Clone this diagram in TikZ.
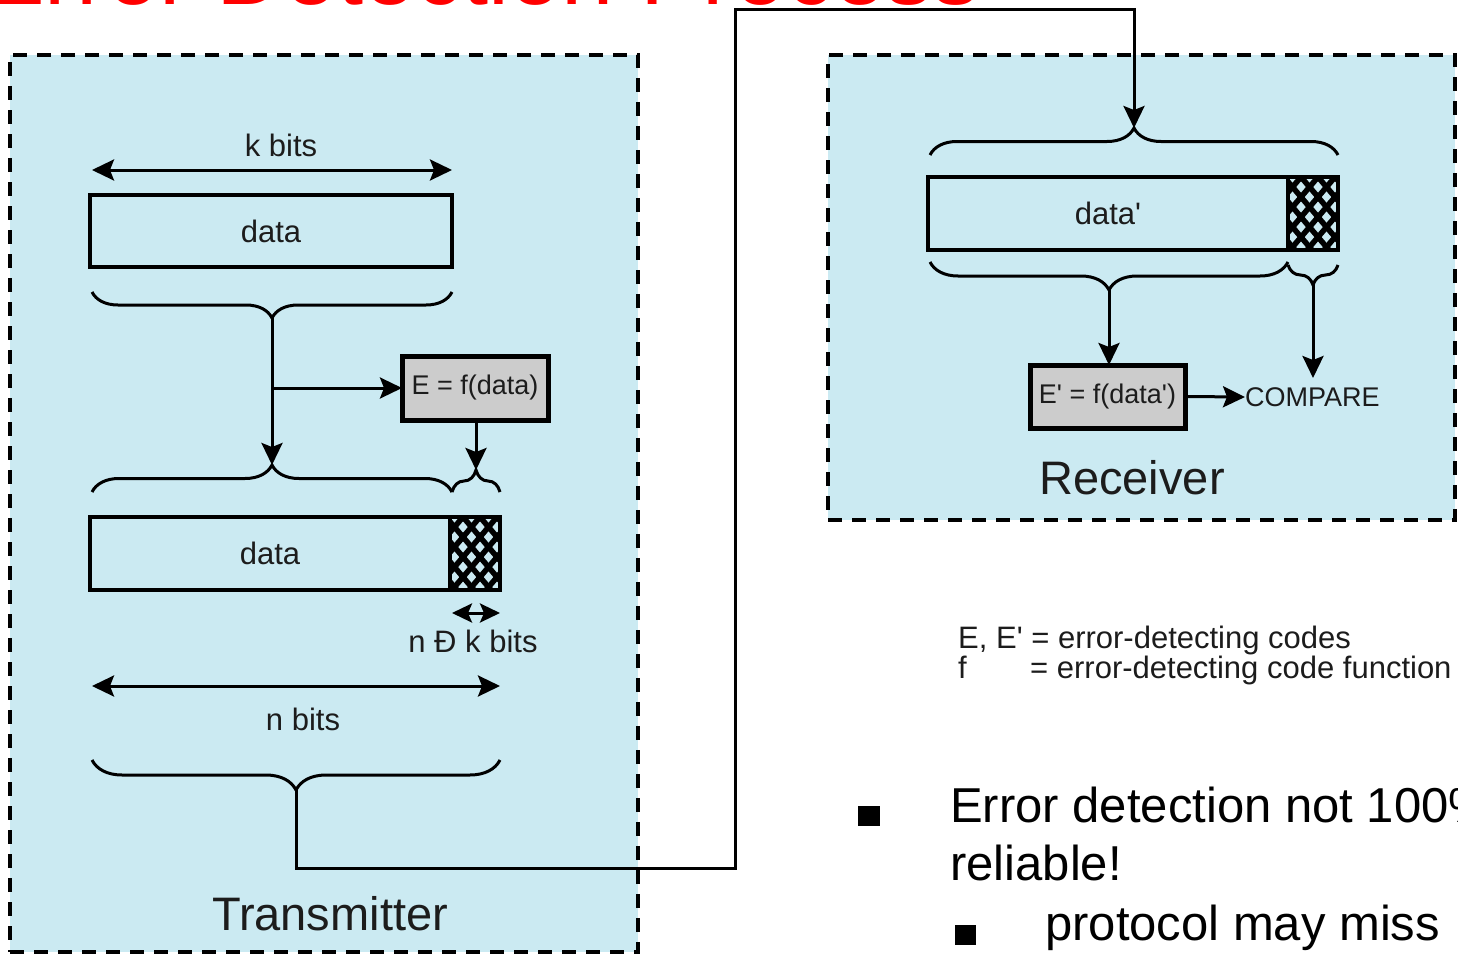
\documentclass[tikz,border=0pt]{standalone}
\usepackage{fontspec}
\setmainfont{Liberation Sans}
\usetikzlibrary{arrows.meta,decorations.pathreplacing,calc}
\definecolor{panelblue}{RGB}{203,234,242}
\definecolor{boxgray}{RGB}{204,204,204}
\definecolor{inkgray}{RGB}{28,28,28}
\newcommand\fLabel{\fontsize{31}{36}\selectfont}
\newcommand\fSmall{\fontsize{27}{32}\selectfont}
\newcommand\fSide{\fontsize{47}{54}\selectfont}
\newcommand\fBullet{\fontsize{49}{58}\selectfont}
\newcommand\fTitle{\fontsize{94}{100}\selectfont}

\begin{document}
\begin{tikzpicture}[x=1pt,y=-1pt,
  panel/.style={draw=black, fill=panelblue, line width=3.5pt,
    dash pattern=on 14pt off 10pt, inner sep=0pt, outer sep=0pt, anchor=north west},
  field/.style={draw=black, line width=4pt, fill=panelblue, inner sep=0pt,
    outer sep=0pt, anchor=north west, text=inkgray, font=\fLabel},
  hatched/.style={field, path picture={
      \foreach \c in {-140,-123,...,200}{
        \draw[black, line width=5.5pt]
          ([xshift=\c pt]path picture bounding box.north west) -- ++(90pt,-106pt);
        \draw[black, line width=5.5pt]
          ([xshift=\c pt]path picture bounding box.north west) -- ++(-90pt,-106pt);
      }}},
  fnbox/.style={draw=black, line width=5pt, fill=boxgray, inner sep=0pt,
    outer sep=0pt, anchor=north west, text=inkgray, font=\fSmall},
  conn/.style={line width=3pt, black},
  arr/.style={conn, -{Stealth[length=22pt,width=21pt,inset=4pt]}},
  dbl/.style={conn, {Stealth[length=22pt,width=21pt,inset=4pt]}-{Stealth[length=22pt,width=21pt,inset=4pt]}},
  dbls/.style={conn, {Stealth[length=20pt,width=19pt,inset=4pt]}-{Stealth[length=20pt,width=19pt,inset=4pt]}},
  brc/.style={conn, decorate, decoration={brace, amplitude=#1}},
  brcm/.style={conn, decorate, decoration={brace, mirror, amplitude=#1}},
  lbl/.style={text=inkgray, font=\fLabel, inner sep=0pt},
]
\path[use as bounding box] (0,0) rectangle (1458,955);
\clip (0,0) rectangle (1458,955);

% heading, mostly above the page edge
\node[font=\fTitle, text=red, anchor=base east, inner sep=0pt] (title) at (980,5) {Error Detection Process};

% the two stations
\node[panel, minimum width=628, minimum height=897] (tx) at (10,55) {};
\node[panel, minimum width=627, minimum height=465] (rx) at (828,55) {};
\node[font=\fSide, text=inkgray, anchor=base, inner sep=0pt] (txname) at (330,930) {Transmitter};
\node[font=\fSide, text=inkgray, anchor=base, inner sep=0pt] (rxname) at (1132,494) {Receiver};

% ---------- transmitter ----------
\coordinate (kL) at (92,170);
\coordinate (kR) at (452,170);
\draw[dbl] (kL) -- (kR);
\node[lbl, anchor=base] (kbits) at (281,157) {k bits};

\node[field, minimum width=362, minimum height=72] (data1) at (90,195) {data};

\draw[brcm=26pt] (92,292) -- (452,292);
\coordinate (b1tip) at (272,318);
\coordinate (branch) at (272,388);

\node[fnbox, minimum width=146, minimum height=64] (ebox) at (402,356) {E = f(data)};

\draw[brc=27pt] (92,492) -- (452,492);
\draw[brc=22pt] (452,492) -- (500,492);
\coordinate (b2tip) at (272,465);
\coordinate (b2stip) at (476,470);

\draw[arr] (b1tip) -- (b2tip);
\draw[arr] (branch) -- (ebox.west);
\draw[arr] (ebox.south -| b2stip) -- (b2stip);

\node[field, minimum width=360, minimum height=73] (data2) at (90,517) {data};
\node[hatched, minimum width=50, minimum height=73] (chk2) at (450,517) {};

\coordinate (nkL) at (452,613);
\coordinate (nkR) at (500,613);
\draw[dbls] (nkL) -- (nkR);
\node[lbl, anchor=base] (nkbits) at (473,652) {n Ð k bits};

\coordinate (nL) at (92,686);
\coordinate (nR) at (500,686);
\draw[dbl] (nL) -- (nR);
\node[lbl, anchor=base] (nbits) at (303,730) {n bits};

\draw[brcm=30pt] (92,760) -- (500,760);
\coordinate (b3tip) at (296,790);

% ---------- receiver ----------
\draw[brc=27pt] (930,155) -- (1338,155);
\coordinate (bRtip) at (1134,128);

\node[field, minimum width=360, minimum height=73] (dataR) at (928,177) {data\textquotesingle};
\node[hatched, minimum width=50, minimum height=73] (chkR) at (1288,177) {};

\draw[brcm=28pt] (930,262) -- (1288,262);
\draw[brcm=20pt] (1288,265) -- (1338,265);
\coordinate (bRbtip) at (1109,290);
\coordinate (bRstip) at (1313,285);

\node[fnbox, minimum width=155, minimum height=63] (eprime) at (1030,365) {E\textquotesingle{} = f(data\textquotesingle)};
\node[text=inkgray, font=\fSmall, inner sep=0pt, outer sep=0pt, anchor=west] (compare) at (1245,397) {COMPARE};
\coordinate (cmpTop) at (1313,378);

\draw[arr] (bRbtip) -- (bRbtip |- eprime.north);
\draw[arr] (bRstip) -- (cmpTop);
\draw[arr] (eprime.east) -- (compare.west);

% channel from transmitter to receiver
\coordinate (t1) at (735,868);
\coordinate (t2) at (735,10);
\draw[arr] (b3tip) |- (t1) -- (t2) -| (bRtip);

% ---------- legend ----------
\node[lbl, anchor=base west] (leg1) at (958,648) {E, E\textquotesingle{} = error-detecting codes};
\node[lbl, anchor=base west] (leg2f) at (958,678) {f};
\node[lbl, anchor=base west] (leg2) at (1030,678) {= error-detecting code function};

% ---------- bullet points ----------
\node[fill=black, minimum width=22, minimum height=20, inner sep=0pt, anchor=north west] (sq1) at (858,806) {};
\node[font=\fBullet, anchor=base west, inner sep=0pt] (pt1) at (950,822) {Error detection not 100\%};
\node[font=\fBullet, anchor=base west, inner sep=0pt] (pt1b) at (950,880) {reliable!};
\node[fill=black, minimum width=21, minimum height=20, inner sep=0pt, anchor=north west] (sq2) at (955,925) {};
\node[font=\fBullet, anchor=base west, inner sep=0pt] (pt2) at (1045,940) {protocol may miss};
\end{tikzpicture}
\end{document}
